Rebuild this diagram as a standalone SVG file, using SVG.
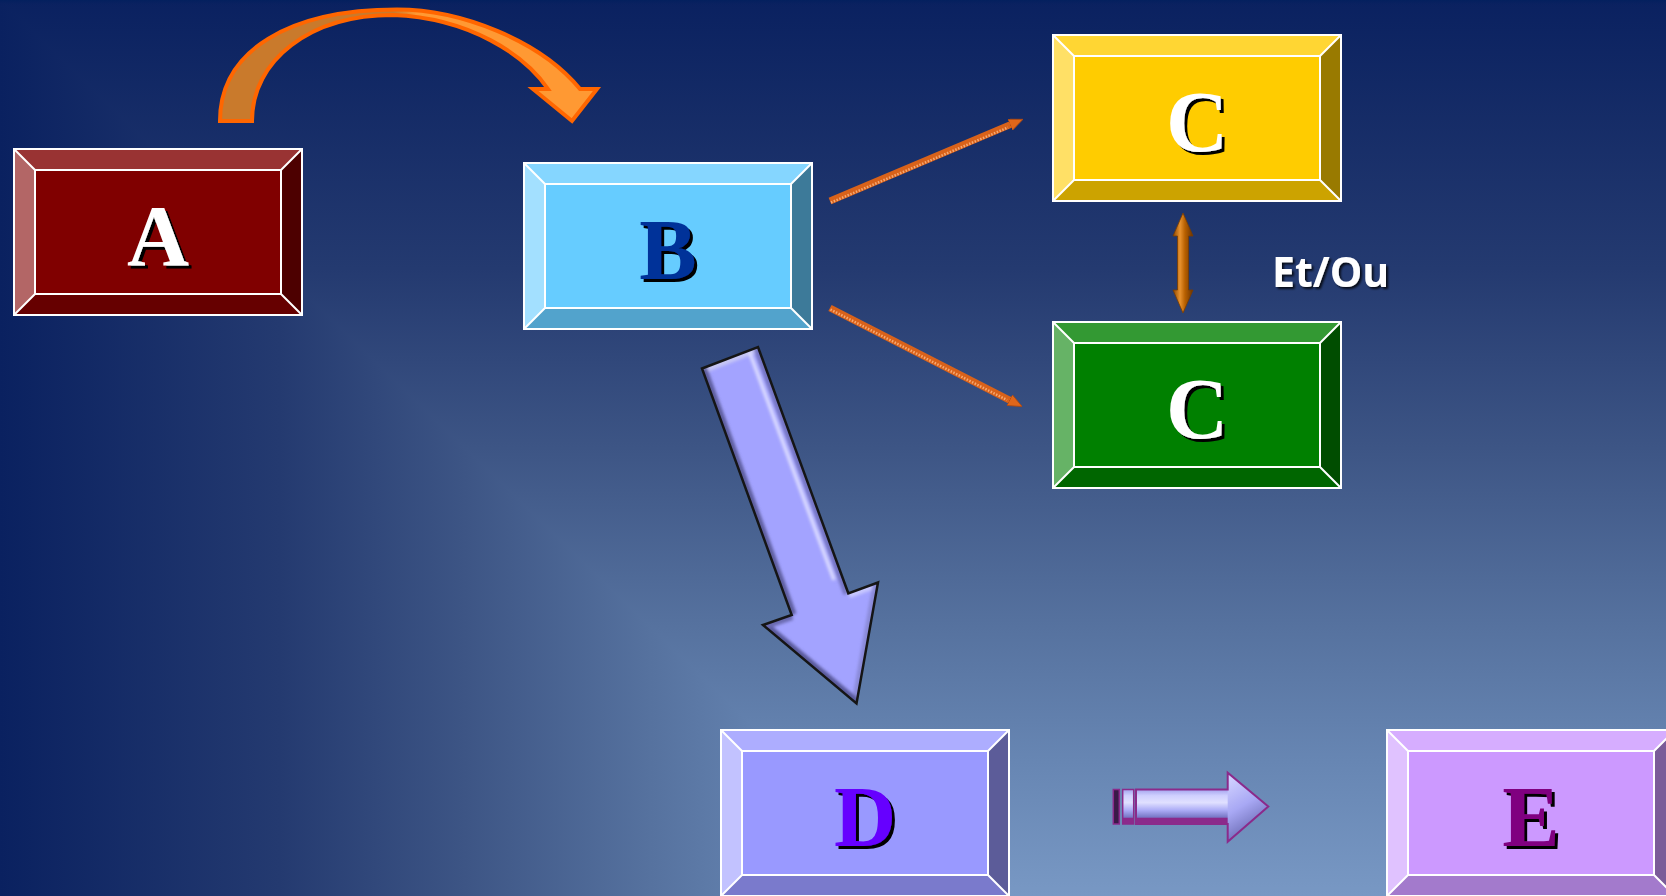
<svg xmlns="http://www.w3.org/2000/svg" width="1666" height="896" viewBox="0 0 1666 896">
  <defs>
    <style>
      .c{fill:var(--c)} .t{fill:var(--t)} .l{fill:var(--l)} .r{fill:var(--r)} .b{fill:var(--b)}
      .frame{fill:none;stroke:#ffffff;stroke-width:2}
      .lbl{font-family:"Liberation Serif","Times New Roman",serif;font-weight:bold;font-size:86px;text-anchor:middle;filter:url(#letterShadow)}
      .note{font-family:"Open Sans","Liberation Sans",sans-serif;font-weight:bold;font-size:41px;fill:#ffffff;filter:url(#noteShadow)}
      .rib{fill:none;stroke:#D9621A;stroke-width:7}
      .ribHi{fill:none;stroke:#F6A872;stroke-width:2.5;stroke-dasharray:1.5 1.5}
      .edge{fill:none;stroke-width:10}
      #node-a{--c:#800000;--t:#993333;--l:#B36666;--r:#4D0000;--b:#660000}
      #node-b{--c:#66CCFF;--t:#85D6FF;--l:#A3E0FF;--r:#3D7A99;--b:#52A3CC}
      #node-c1{--c:#FFCC00;--t:#FFD633;--l:#FFE066;--r:#997A00;--b:#CCA300}
      #node-c2{--c:#008000;--t:#339933;--l:#66B366;--r:#004D00;--b:#006600}
      #node-d{--c:#9999FF;--t:#ADADFF;--l:#C2C2FF;--r:#5C5C99;--b:#7A7ACC}
      #node-e{--c:#CC99FF;--t:#D6ADFF;--l:#E0C2FF;--r:#7A5C99;--b:#A37ACC}
    </style>

    <!-- background: vertical fade plus a matching fade from the left edge -->
    <linearGradient id="bgV" gradientUnits="userSpaceOnUse" x1="0" y1="0" x2="0" y2="896">
      <stop offset="0" stop-color="#0A2160"/>
      <stop offset="0.3" stop-color="#243A70"/>
      <stop offset="0.5" stop-color="#3D5585"/>
      <stop offset="0.7" stop-color="#56729F"/>
      <stop offset="0.85" stop-color="#6786B3"/>
      <stop offset="1" stop-color="#7898C4"/>
    </linearGradient>
    <linearGradient id="bgH" href="#bgV" gradientUnits="userSpaceOnUse" x1="0" y1="0" x2="930" y2="0"/>
    <linearGradient id="topLine" x1="0" y1="0" x2="0" y2="1">
      <stop offset="0" stop-color="#03205E"/>
      <stop offset="1" stop-color="#0A2160" stop-opacity="0"/>
    </linearGradient>

    <filter id="letterShadow" x="-20%" y="-20%" width="150%" height="150%">
      <feDropShadow dx="3" dy="3" stdDeviation="0.4" flood-color="#000000" flood-opacity="1"/>
    </filter>
    <filter id="noteShadow" x="-20%" y="-30%" width="150%" height="170%">
      <feDropShadow dx="2" dy="2" stdDeviation="1.2" flood-color="#000000" flood-opacity="0.8"/>
    </filter>
    <filter id="soft" x="-10%" y="-10%" width="120%" height="120%">
      <feGaussianBlur stdDeviation="1.6"/>
    </filter>

    <!-- curved arrow: shaded back limb, lit front limb -->
    <linearGradient id="curveFill" gradientUnits="userSpaceOnUse" x1="218" y1="0" x2="600" y2="0">
      <stop offset="0" stop-color="#C97A2C"/>
      <stop offset="0.46" stop-color="#C97A2C"/>
      <stop offset="0.52" stop-color="#FF9933"/>
      <stop offset="1" stop-color="#FF9933"/>
    </linearGradient>

    <!-- vertical double arrow -->
    <linearGradient id="bronze" x1="0" y1="0" x2="1" y2="0">
      <stop offset="0" stop-color="#8C4600"/>
      <stop offset="0.35" stop-color="#E8922E"/>
      <stop offset="0.6" stop-color="#B86000"/>
      <stop offset="1" stop-color="#6A3300"/>
    </linearGradient>

    <!-- small lilac arrow -->
    <linearGradient id="lilacShaft" gradientUnits="userSpaceOnUse" x1="0" y1="789.5" x2="0" y2="824">
      <stop offset="0" stop-color="#A4A4EE"/>
      <stop offset="0.18" stop-color="#D0D0FF"/>
      <stop offset="0.38" stop-color="#E0E0FF"/>
      <stop offset="0.6" stop-color="#ACACF6"/>
      <stop offset="0.8" stop-color="#7878C6"/>
      <stop offset="0.84" stop-color="#8B2A8B"/>
      <stop offset="1" stop-color="#8B2A8B"/>
    </linearGradient>
    <linearGradient id="lilacHead" gradientUnits="userSpaceOnUse" x1="1228" y1="780" x2="1262" y2="836">
      <stop offset="0" stop-color="#D0D0FF"/>
      <stop offset="0.45" stop-color="#A8A8F4"/>
      <stop offset="1" stop-color="#5A5AA2"/>
    </linearGradient>

    <marker id="orangeHead" viewBox="0 0 14 12" refX="1" refY="6" markerWidth="14" markerHeight="12" markerUnits="userSpaceOnUse" orient="auto">
      <path d="M0,0 L14,6 L0,12 Z" fill="#E0661A" stroke="#B04A10" stroke-width="0.8"/>
    </marker>

    <clipPath id="bigArrowClip">
      <polygon points="702,368.5 758,347 848.3,593.3 878,582.5 856.5,703.5 763,625 791.7,615"/>
    </clipPath>
  </defs>

  <!-- background -->
  <rect x="0" y="0" width="1666" height="896" fill="url(#bgV)"/>
  <polygon points="0,0 930,896 0,896" fill="url(#bgH)"/>
  <rect x="0" y="0" width="1666" height="6" fill="url(#topLine)"/>

  <!-- nodes -->
  <g id="node-a" transform="translate(14,149)">
    <rect class="c" x="21" y="21" width="246" height="124"/>
    <polygon class="t" points="0,0 288,0 267,21 21,21"/>
    <polygon class="l" points="0,0 21,21 21,145 0,166"/>
    <polygon class="r" points="288,0 288,166 267,145 267,21"/>
    <polygon class="b" points="0,166 21,145 267,145 288,166"/>
    <path class="frame" d="M0,0H288V166H0Z M21,21H267V145H21Z M0,0L21,21 M288,0L267,21 M288,166L267,145 M0,166L21,145"/>
    <text class="lbl" x="144" y="116" fill="#FFFFFF">A</text>
  </g>

  <g id="node-b" transform="translate(524,163)">
    <rect class="c" x="21" y="21" width="246" height="124"/>
    <polygon class="t" points="0,0 288,0 267,21 21,21"/>
    <polygon class="l" points="0,0 21,21 21,145 0,166"/>
    <polygon class="r" points="288,0 288,166 267,145 267,21"/>
    <polygon class="b" points="0,166 21,145 267,145 288,166"/>
    <path class="frame" d="M0,0H288V166H0Z M21,21H267V145H21Z M0,0L21,21 M288,0L267,21 M288,166L267,145 M0,166L21,145"/>
    <text class="lbl" x="144" y="116" fill="#003399">B</text>
  </g>

  <g id="node-c1" transform="translate(1053,35)">
    <rect class="c" x="21" y="21" width="246" height="124"/>
    <polygon class="t" points="0,0 288,0 267,21 21,21"/>
    <polygon class="l" points="0,0 21,21 21,145 0,166"/>
    <polygon class="r" points="288,0 288,166 267,145 267,21"/>
    <polygon class="b" points="0,166 21,145 267,145 288,166"/>
    <path class="frame" d="M0,0H288V166H0Z M21,21H267V145H21Z M0,0L21,21 M288,0L267,21 M288,166L267,145 M0,166L21,145"/>
    <text class="lbl" x="144" y="116" fill="#FFFFFF">C</text>
  </g>

  <g id="node-c2" transform="translate(1053,322)">
    <rect class="c" x="21" y="21" width="246" height="124"/>
    <polygon class="t" points="0,0 288,0 267,21 21,21"/>
    <polygon class="l" points="0,0 21,21 21,145 0,166"/>
    <polygon class="r" points="288,0 288,166 267,145 267,21"/>
    <polygon class="b" points="0,166 21,145 267,145 288,166"/>
    <path class="frame" d="M0,0H288V166H0Z M21,21H267V145H21Z M0,0L21,21 M288,0L267,21 M288,166L267,145 M0,166L21,145"/>
    <text class="lbl" x="144" y="116" fill="#FFFFFF">C</text>
  </g>

  <g id="node-d" transform="translate(721,730)">
    <rect class="c" x="21" y="21" width="246" height="124"/>
    <polygon class="t" points="0,0 288,0 267,21 21,21"/>
    <polygon class="l" points="0,0 21,21 21,145 0,166"/>
    <polygon class="r" points="288,0 288,166 267,145 267,21"/>
    <polygon class="b" points="0,166 21,145 267,145 288,166"/>
    <path class="frame" d="M0,0H288V166H0Z M21,21H267V145H21Z M0,0L21,21 M288,0L267,21 M288,166L267,145 M0,166L21,145"/>
    <text class="lbl" x="144" y="116" fill="#6600FF">D</text>
  </g>

  <g id="node-e" transform="translate(1387,730)">
    <rect class="c" x="21" y="21" width="246" height="124"/>
    <polygon class="t" points="0,0 288,0 267,21 21,21"/>
    <polygon class="l" points="0,0 21,21 21,145 0,166"/>
    <polygon class="r" points="288,0 288,166 267,145 267,21"/>
    <polygon class="b" points="0,166 21,145 267,145 288,166"/>
    <path class="frame" d="M0,0H288V166H0Z M21,21H267V145H21Z M0,0L21,21 M288,0L267,21 M288,166L267,145 M0,166L21,145"/>
    <text class="lbl" x="144" y="116" fill="#800080">E</text>
  </g>

  <!-- connectors -->
  <g id="connectors">
    <!-- A to B: curved arrow -->
    <path id="arc-a-b" d="M220,121 C220,50 290,9.5 397,9.5 C460,9.5 540,40 580,89 L597,89 L572,121 L533,89 L548,89 C525,55 470,18 393,15 C310,15 252,60 252,121 Z"
          fill="url(#curveFill)" stroke="#FF6600" stroke-width="4" stroke-linejoin="miter"/>

    <!-- B to upper C -->
    <g id="b-c1">
      <line class="rib" x1="830" y1="201" x2="1011" y2="124.4" marker-end="url(#orangeHead)"/>
      <line class="ribHi" x1="831" y1="202.5" x2="1008" y2="127.5"/>
    </g>

    <!-- B to lower C -->
    <g id="b-c2">
      <line class="rib" x1="830" y1="308" x2="1010.5" y2="400.6" marker-end="url(#orangeHead)"/>
      <line class="ribHi" x1="830.5" y1="309.5" x2="1007" y2="400"/>
    </g>

    <!-- upper C and lower C -->
    <polygon id="c1-c2" points="1183,213 1193,236 1188.5,236 1188.5,290 1193,290 1183,313 1173,290 1177.5,290 1177.5,236 1173,236"
             fill="url(#bronze)" stroke="#7A3C00" stroke-width="0.8"/>
    <text class="note" x="1272" y="287">Et/Ou</text>

    <!-- B to D: large bevelled arrow -->
    <g id="b-d">
      <polygon points="702,368.5 758,347 848.3,593.3 878,582.5 856.5,703.5 763,625 791.7,615" fill="#A3A3FF"/>
      <g clip-path="url(#bigArrowClip)">
        <g filter="url(#soft)">
          <line class="edge" x1="702" y1="368.5" x2="758" y2="347" stroke="#C6C6F6"/>
          <line class="edge" x1="758" y1="347" x2="848.3" y2="593.3" stroke="#7676C4"/>
          <line class="edge" x1="848.3" y1="593.3" x2="878" y2="582.5" stroke="#C8C8FF"/>
          <line class="edge" x1="878" y1="582.5" x2="856.5" y2="703.5" stroke="#8A8AD8"/>
          <line class="edge" x1="856.5" y1="703.5" x2="763" y2="625" stroke="#5A5A9C"/>
          <line class="edge" x1="763" y1="625" x2="791.7" y2="615" stroke="#6A6AB0"/>
          <line class="edge" x1="791.7" y1="615" x2="702" y2="368.5" stroke="#5E5EA0"/>
          <line x1="749.5" y1="352" x2="834" y2="580" stroke="#DCDCFF" stroke-width="3.5"/>
        </g>
      </g>
      <polygon points="702,368.5 758,347 848.3,593.3 878,582.5 856.5,703.5 763,625 791.7,615" fill="none" stroke="#151515" stroke-width="2.5" stroke-linejoin="miter"/>
    </g>

    <!-- D to E: small striped arrow -->
    <g id="d-e">
      <rect x="1113.3" y="789.5" width="6" height="34.5" fill="#3A1A48" stroke="#8B2A8B" stroke-width="1.5"/>
      <rect x="1122.7" y="789.5" width="11" height="34.5" fill="url(#lilacShaft)" stroke="#8B2A8B" stroke-width="1.5"/>
      <rect x="1136" y="789.5" width="92" height="34.5" fill="url(#lilacShaft)"/>
      <polygon points="1227.7,772.7 1268.3,806.5 1227.7,841.7" fill="url(#lilacHead)"/>
      <polygon points="1136,789.5 1227.7,789.5 1227.7,772.7 1268.3,806.5 1227.7,841.7 1227.7,824 1136,824" fill="none" stroke="#8B2A8B" stroke-width="2" stroke-linejoin="miter"/>
    </g>
  </g>
</svg>
